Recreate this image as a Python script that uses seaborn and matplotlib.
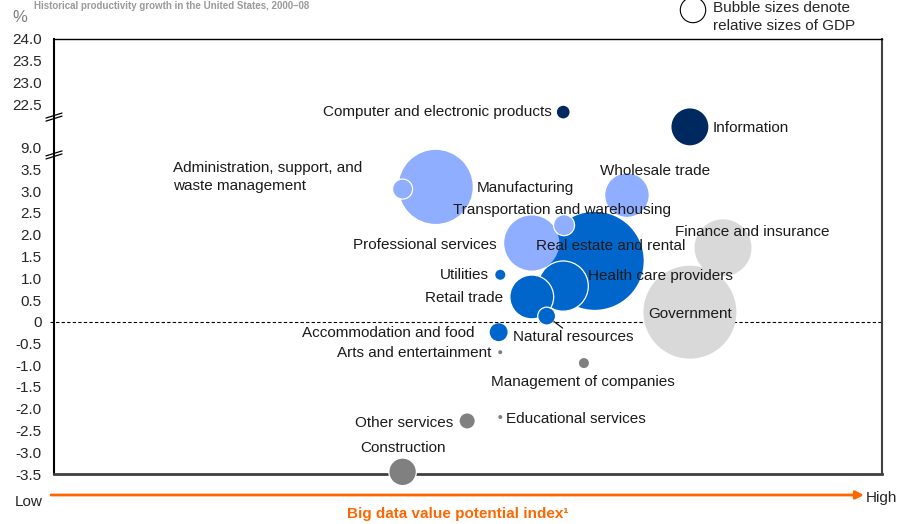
import numpy as np
import pandas as pd
import matplotlib
matplotlib.use("Agg")
import matplotlib.pyplot as plt
import matplotlib.patches as mpatches
import seaborn as sns

# sectors in drawing order (big bubbles first so the small ones sit on top)
sectors = ["Manufacturing", "Administration, support, and\nwaste management",
           "Real estate and rental", "Professional services",
           "Transportation and warehousing", "Health care providers",
           "Retail trade", "Natural resources", "Wholesale trade",
           "Finance and insurance", "Government", "Information",
           "Computer and electronic products", "Utilities",
           "Accommodation and food", "Arts and entertainment",
           "Management of companies", "Other services",
           "Educational services", "Construction"]
big_data_index = [46.1, 42.1, 65.3, 57.7, 61.6, 61.5, 57.7, 59.5, 69.2, 80.8,
                  76.8, 76.8, 61.5, 53.9, 53.7, 53.9, 64.0, 49.9, 53.9, 42.1]
productivity_growth = [3.10, 3.05, 1.40, 1.81, 2.22, 0.82, 0.57, 0.13, 2.91, 1.70,
                       0.22, 9.48, 22.32, 1.08, -0.24, -0.70, -0.95, -2.28, -2.19, -3.45]
gdp_share = [13.7, 1.0, 24.0, 7.6, 1.1, 6.3, 4.8, 0.8, 4.7, 8.1,
             21.6, 3.4, 0.4, 0.25, 0.8, 0.04, 0.25, 0.56, 0.04, 1.9]
cluster = ["B", "B", "C", "B", "B", "C", "C", "C", "B", "D",
           "D", "A", "A", "C", "C", "E", "E", "E", "E", "E"]

ytick_values = [-3.5, -3.0, -2.5, -2.0, -1.5, -1.0, -0.5, 0, 0.5, 1.0, 1.5, 2.0,
                2.5, 3.0, 3.5, 9.0, 22.5, 23.0, 23.5, 24.0]

palette = {"A": "#002960", "B": "#8FAEFF", "C": "#0066CC",
           "D": "#D9D9D9", "E": "#808080"}
white_edge = {"Administration, support, and\nwaste management", "Transportation and warehousing",
              "Health care providers", "Retail trade", "Natural resources", "Construction"}

# broken y axis: piecewise mapping of growth values to plot position
brk_in = [-3.5, 3.83, 8.83, 9.7, 22.2, 24.0]
brk_out = [0, 14.66, 14.66, 16.4, 16.4, 20.0]


def ytrans(v):
    return np.interp(v, brk_in, brk_out)


df = pd.DataFrame({"sector": sectors, "index": big_data_index,
                   "growth": productivity_growth, "gdp": gdp_share,
                   "cluster": cluster})
df["ypos"] = ytrans(df["growth"])

sns.set_style("white")
plt.rcParams["font.family"] = ["Liberation Sans", "DejaVu Sans"]

fig = plt.figure(figsize=(8.98, 5.24), dpi=100)
ax = fig.add_axes([54 / 898, 50 / 524, 828 / 898, 435 / 524])

# area in pt^2 proportional to gdp share
smax = 207.36 * max(gdp_share)
lws = [0.9 if s in white_edge else 0 for s in sectors]
sns.scatterplot(data=df, x="index", y="ypos", hue="cluster", palette=palette,
                size="gdp", sizes=(0, smax), size_norm=(0, max(gdp_share)),
                edgecolor="white", linewidth=lws, legend=False, ax=ax, zorder=5,
                clip_on=False)

ax.set_xlim(0, 100)
ax.set_ylim(0, 20)
ax.set_xticks([])
ax.set_yticks(ytrans(ytick_values))
ax.set_yticklabels(["0" if v == 0 else f"{v:.1f}" for v in ytick_values], fontsize=11)
ax.tick_params(axis="y", length=0, pad=9)
ax.set_xlabel("")
ax.set_ylabel("")

for side, lw, col in [("left", 1.5, "black"), ("bottom", 2, "#404040"),
                      ("top", 1, "black"), ("right", 1.5, "#404040")]:
    ax.spines[side].set_visible(True)
    ax.spines[side].set_linewidth(lw)
    ax.spines[side].set_color(col)
    ax.spines[side].set_zorder(2)

# zero line
ax.plot([-0.005, 1], [ytrans(0)] * 2, transform=ax.get_yaxis_transform(),
        ls=(0, (3, 2)), lw=0.8, color="black", clip_on=False, zorder=1)

# break marks on the left axis
tr = ax.get_yaxis_transform()
for yb in [16.41, 14.67]:
    for off in [-0.07, 0.07]:
        ax.plot([-0.0097, 0.0097], [yb + off - 0.115, yb + off + 0.115], transform=tr,
                color="black", lw=0.9, clip_on=False, zorder=3)

# label offsets in pixels from bubble centre: dx, dy (up), ha
label_pos = {
    "Computer and electronic products": (-11, 0, "right"),
    "Information": (23, -1, "left"),
    "Administration, support, and\nwaste management": (-230, 12, "left"),
    "Manufacturing": (41, -1, "left"),
    "Wholesale trade": (-27, 24, "left"),
    "Transportation and warehousing": (-111, 15, "left"),
    "Professional services": (-35, -2, "right"),
    "Real estate and rental": (-59, 15, "left"),
    "Health care providers": (25, 10, "left"),
    "Retail trade": (-29, -1, "right"),
    "Natural resources": (-34, -21, "left"),
    "Utilities": (-11, 0, "right"),
    "Accommodation and food": (-24, -1, "right"),
    "Arts and entertainment": (-9, -1, "right"),
    "Management of companies": (-93, -19, "left"),
    "Finance and insurance": (-48, 16, "left"),
    "Government": (0, -2, "center"),
    "Other services": (-14, -2, "right"),
    "Educational services": (6, -2, "left"),
    "Construction": (0, 24, "center"),
}
for _, row in df.iterrows():
    dx, dy, ha = label_pos[row["sector"]]
    ax.annotate(row["sector"], (row["index"], row["ypos"]), xytext=(dx * 0.72, dy * 0.72),
                textcoords="offset points", ha=ha, va="center", fontsize=11,
                color="#1a1a1a", zorder=6, linespacing=1.35)

# leader line for natural resources
nr = df[df["sector"] == "Natural resources"].iloc[0]
ax.annotate("", (nr["index"], nr["ypos"]), xytext=(16 * 0.72, -12 * 0.72),
            textcoords="offset points",
            arrowprops=dict(arrowstyle="-", lw=0.8, color="black", shrinkA=0, shrinkB=6.5),
            zorder=6)

# header bits
fig.text(34 / 898, 1 - 1 / 524, "Historical productivity growth in the United States, 2000\u201308",
         fontsize=7, fontweight="bold", color="#9a9a9a", va="top")
fig.text(12 / 898, 1 - 17 / 524, "%", fontsize=12, color="#7f7f7f", va="center")
fig.add_artist(mpatches.Circle((6.93, 5.24 - 0.10), 0.127, transform=fig.dpi_scale_trans,
                               facecolor="white", edgecolor="black", lw=0.8))
fig.text(713 / 898, 1 - 17 / 524, "Bubble sizes denote\nrelative sizes of GDP", fontsize=11,
         va="center", ha="left", linespacing=1.45)

# x axis arrow
ax.annotate("", xy=(864, 524 - 495), xytext=(51, 524 - 495), xycoords="figure pixels",
            textcoords="figure pixels",
            arrowprops=dict(arrowstyle="-|>", color="#FF6600", lw=2, mutation_scale=12,
                            shrinkA=0, shrinkB=0))
fig.text(15 / 898, 1 - 502 / 524, "Low", fontsize=11, va="center")
fig.text(866 / 898, 1 - 498 / 524, "High", fontsize=11, va="center")
fig.text(458 / 898, 1 - 514 / 524, "Big data value potential index\u00b9", fontsize=11,
         fontweight="bold", color="#FF6600", ha="center", va="center")

fig.savefig("out.png", dpi=100)
